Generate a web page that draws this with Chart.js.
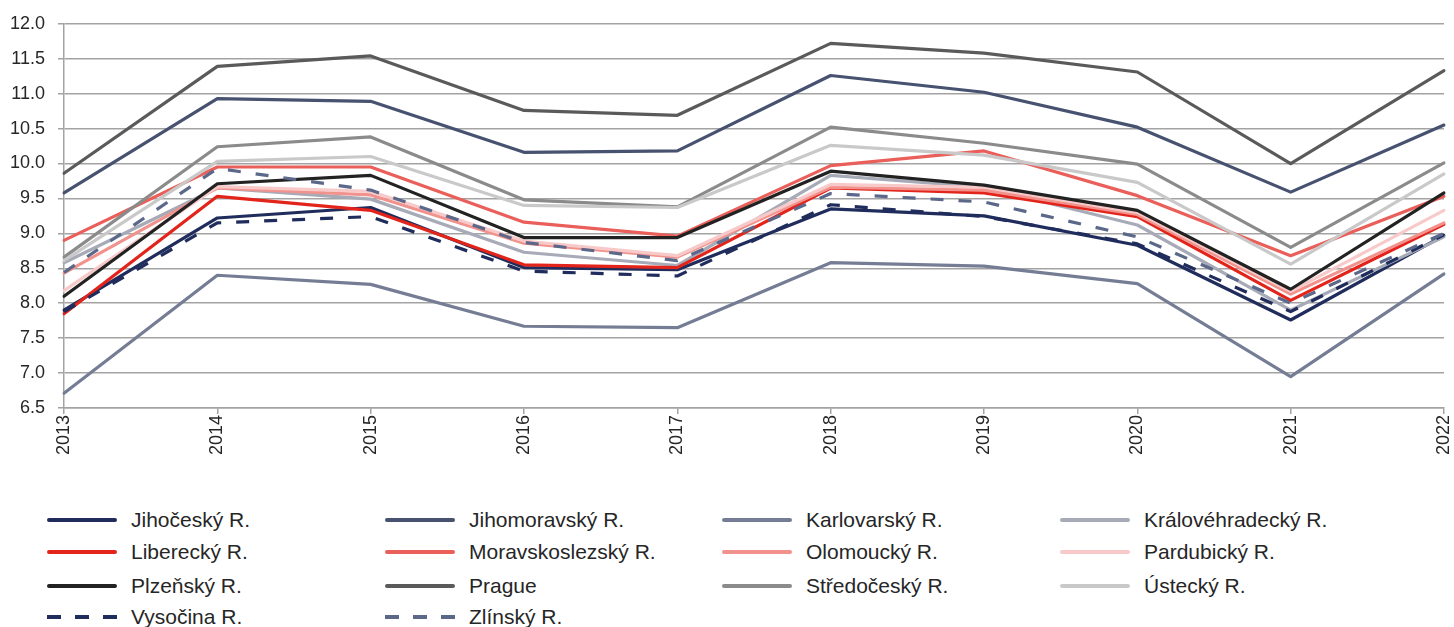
<!DOCTYPE html>
<html>
<head>
<meta charset="utf-8">
<script src="https://cdn.jsdelivr.net/npm/chart.js@4/dist/chart.umd.min.js"></script>
<style>
  html, body { margin: 0; padding: 0; background: #ffffff; }
  #wrap { position: relative; width: 1454px; height: 627px; overflow: hidden; background: #fff; }
  #plot { position: absolute; left: 0; top: 0; width: 1454px; height: 470px; }
  #legend { position: absolute; left: 47px; top: 504px; width: 1400px;
            font-family: "Liberation Sans", Arial, sans-serif; font-size: 21px; color: #262626; }
  .item { position: absolute; height: 32px; display: flex; align-items: center; white-space: nowrap; }
  .item svg { width: 70px; height: 10px; margin-right: 14px; flex: none; }
</style>
</head>
<body>
<div id="wrap">
  <div id="plot"><canvas id="chart"></canvas></div>
  <div id="legend"></div>
</div>
<script>
// Years on the horizontal axis
const years = ['2013','2014','2015','2016','2017','2018','2019','2020','2021','2022'];

// Region names, in legend order
const regionNames = ['Jihočeský R.','Jihomoravský R.','Karlovarský R.','Královéhradecký R.',
  'Liberecký R.','Moravskoslezský R.','Olomoucký R.','Pardubický R.',
  'Plzeňský R.','Prague','Středočeský R.','Ústecký R.',
  'Vysočina R.','Zlínský R.'];

// Values per region, 2013–2022
const jihocesky       = [7.90, 9.22, 9.37, 8.51, 8.48, 9.35, 9.25, 8.83, 7.76, 8.97];
const jihomoravsky    = [9.58, 10.93, 10.89, 10.16, 10.18, 11.26, 11.02, 10.52, 9.59, 10.55];
const karlovarsky     = [6.71, 8.40, 8.27, 7.67, 7.65, 8.58, 8.53, 8.28, 6.95, 8.42];
const kralovehradecky = [8.58, 9.65, 9.49, 8.73, 8.54, 9.83, 9.66, 9.12, 7.90, 8.95];
const liberecky       = [7.85, 9.53, 9.33, 8.55, 8.51, 9.65, 9.58, 9.24, 8.04, 9.13];
const moravskoslezsky = [8.90, 9.95, 9.95, 9.16, 8.96, 9.97, 10.18, 9.54, 8.68, 9.53];
const olomoucky       = [8.43, 9.65, 9.55, 8.86, 8.66, 9.66, 9.62, 9.27, 8.13, 9.15];
const pardubicky      = [8.18, 9.67, 9.60, 8.89, 8.68, 9.70, 9.66, 9.30, 8.17, 9.33];
const plzensky        = [8.10, 9.71, 9.83, 8.94, 8.94, 9.89, 9.69, 9.33, 8.20, 9.58];
const prague          = [9.86, 11.39, 11.54, 10.76, 10.69, 11.72, 11.58, 11.31, 10.00, 11.33];
const stredocesky     = [8.66, 10.24, 10.38, 9.48, 9.38, 10.52, 10.29, 9.99, 8.80, 10.01];
const ustecky         = [8.61, 10.03, 10.10, 9.40, 9.37, 10.26, 10.12, 9.73, 8.56, 9.85];
const vysocina        = [7.88, 9.15, 9.24, 8.46, 8.39, 9.41, 9.24, 8.85, 7.88, 8.98];
const zlinsky         = [8.44, 9.93, 9.62, 8.87, 8.61, 9.57, 9.45, 8.95, 8.00, 9.00];

// Value-axis ticks
const yTicks = [6.5, 7.0, 7.5, 8.0, 8.5, 9.0, 9.5, 10.0, 10.5, 11.0, 11.5, 12.0];

const seriesValues = [jihocesky, jihomoravsky, karlovarsky, kralovehradecky,
  liberecky, moravskoslezsky, olomoucky, pardubicky,
  plzensky, prague, stredocesky, ustecky, vysocina, zlinsky];

const lineColors = ['#1f2c5c','#46526f','#757d95','#a7aab7',
  '#e2241b','#ea5f5a','#f2928d','#f8c9c9',
  '#222222','#5a5a5a','#8b8b8b','#c9c9c9',
  '#1f2c5c','#5b688a'];
const dashed = [false,false,false,false,false,false,false,false,false,false,false,false,true,true];
const DASH = [13, 15];

const datasets = seriesValues.map((vals, i) => ({
  label: regionNames[i],
  data: vals,
  borderColor: lineColors[i],
  backgroundColor: lineColors[i],
  borderWidth: 3.2,
  borderDash: dashed[i] ? DASH : [],
  borderJoinStyle: 'round',
  borderCapStyle: dashed[i] ? 'butt' : 'round',
  pointRadius: 0,
  pointHoverRadius: 0,
  tension: 0,
  fill: false,
  order: seriesValues.length - i   // later series are painted on top
}));

const GRID = '#a3a3a3';

new Chart(document.getElementById('chart'), {
  type: 'line',
  data: { labels: years, datasets },
  options: {
    responsive: true,
    maintainAspectRatio: false,
    animation: false,
    layout: { padding: { left: 0, right: 10, top: 23, bottom: 0 } },
    plugins: { legend: { display: false }, tooltip: { enabled: false } },
    scales: {
      x: {
        type: 'category',
        offset: false,
        grid: { display: true, drawOnChartArea: false, drawTicks: true, tickLength: 6,
                color: GRID, lineWidth: 1.5 },
        border: { display: true, color: GRID, width: 1.5 },
        ticks: { autoSkip: false, minRotation: 90, maxRotation: 90, padding: 1,
                 color: '#262626', font: { family: 'Liberation Sans', size: 18 } },
        afterFit(scale) {
          scale.height = 62;
          // end labels may hang past the plot edges; no extra side room
          scale.paddingLeft = 0;
          scale.paddingRight = 0;
        }
      },
      y: {
        min: 6.5, max: 12,
        afterBuildTicks(scale) { scale.ticks = yTicks.map(v => ({ value: v })); },
        grid: { color: GRID, lineWidth: 1.5, tickLength: 6 },
        border: { display: true, color: GRID, width: 1.5 },
        ticks: { padding: 13, color: '#262626', font: { family: 'Liberation Sans', size: 18 },
                 callback: v => Number(v).toFixed(1) },
        afterFit(scale) { scale.width = 64; }
      }
    }
  }
});

// Legend: four columns, built from the same series definitions
const legend = document.getElementById('legend');
const colX = [0, 338, 675, 1013];
const rowY = [0, 32, 66, 97];
regionNames.forEach((name, i) => {
  const el = document.createElement('div');
  el.className = 'item';
  el.style.left = colX[i % 4] + 'px';
  el.style.top = rowY[Math.floor(i / 4)] + 'px';
  const dash = dashed[i] ? 'stroke-dasharray="14 14" stroke-linecap="butt"' : 'stroke-linecap="round"';
  el.innerHTML = '<svg viewBox="0 0 70 10"><line x1="' + (dashed[i] ? 0 : 2) + '" y1="5" x2="' + (dashed[i] ? 70 : 68) +
    '" y2="5" stroke="' + lineColors[i] + '" stroke-width="4" ' + dash + '/></svg><span>' + name + '</span>';
  legend.appendChild(el);
});
</script>
</body>
</html>
